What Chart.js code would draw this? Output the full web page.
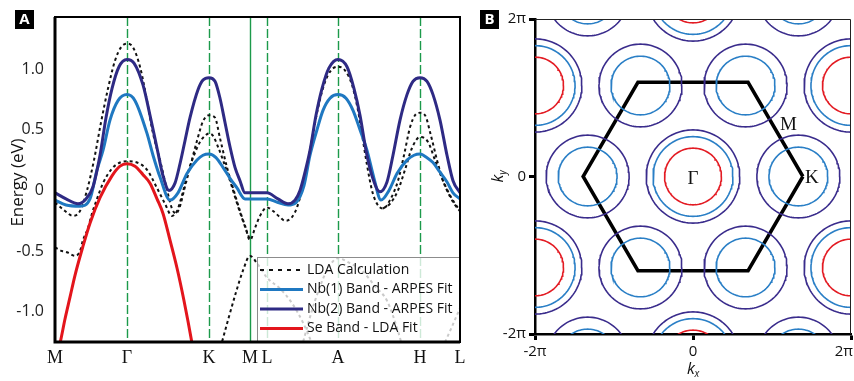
<!DOCTYPE html>
<html>
<head>
<meta charset="utf-8">
<script src="https://cdn.jsdelivr.net/npm/chart.js@4.4.1/dist/chart.umd.min.js"></script>
<style>
  html, body { margin: 0; padding: 0; background: #fff; overflow: hidden; }
  #wrap { position: relative; width: 854px; height: 381px; }
  #bands { position: absolute; left: 0; top: 0; }
  #fermi { position: absolute; left: 470px; top: 0; }
</style>
</head>
<body>
<div id="wrap">
  <canvas id="bands" width="470" height="381"></canvas>
  <canvas id="fermi" width="384" height="381"></canvas>
</div>
<script>
// ---- band structure along M-Γ-K-M-L-A-H-L (path length, energy in eV) ----
const pathTicks   = [0, 0.72, 1.54, 1.95, 2.12, 2.83, 3.65, 4.05];
const pathLabels  = ['M', 'Γ', 'K', 'M', 'L', 'A', 'H', 'L'];
const energyTicks = [-1.0, -0.5, 0, 0.5, 1.0];

const nb1Fit = [[0,-0.08],[0.11,-0.12],[0.25,-0.13],[0.35,-0.07],[0.42,0.17],[0.48,0.33],[0.55,0.58],[0.63,0.74],[0.72,0.79],[0.80,0.74],[0.92,0.47],[0.98,0.29],[1.05,0.11],[1.15,-0.08],[1.23,-0.02],[1.32,0.14],[1.42,0.25],[1.48,0.29],[1.54,0.30],[1.61,0.27],[1.68,0.19],[1.75,0.10],[1.82,0.02],[1.90,-0.07],[1.95,-0.07],[2.12,-0.07],[2.23,-0.10],[2.33,-0.12],[2.41,-0.10],[2.49,0.04],[2.55,0.29],[2.62,0.50],[2.68,0.66],[2.75,0.76],[2.83,0.79],[2.91,0.76],[2.98,0.66],[3.05,0.50],[3.12,0.33],[3.19,0.10],[3.26,-0.08],[3.34,0.00],[3.42,0.14],[3.52,0.25],[3.59,0.29],[3.65,0.30],[3.72,0.27],[3.78,0.23],[3.85,0.15],[3.92,0.07],[3.98,-0.02],[4.05,-0.07]];

const nb2Fit = [[0,-0.02],[0.11,-0.07],[0.23,-0.11],[0.31,-0.07],[0.38,0.03],[0.45,0.29],[0.51,0.60],[0.57,0.84],[0.64,1.02],[0.72,1.08],[0.79,1.05],[0.88,0.87],[0.95,0.62],[1.02,0.35],[1.08,0.12],[1.14,0.00],[1.20,0.06],[1.25,0.22],[1.30,0.41],[1.35,0.60],[1.43,0.83],[1.48,0.91],[1.54,0.93],[1.60,0.90],[1.65,0.76],[1.70,0.56],[1.75,0.36],[1.80,0.19],[1.85,0.08],[1.90,-0.02],[1.95,-0.02],[2.12,-0.02],[2.23,-0.07],[2.33,-0.11],[2.40,-0.08],[2.45,0.00],[2.50,0.15],[2.55,0.33],[2.61,0.62],[2.67,0.84],[2.74,1.01],[2.83,1.08],[2.92,1.02],[2.99,0.84],[3.05,0.62],[3.11,0.33],[3.17,0.12],[3.25,-0.01],[3.32,0.07],[3.38,0.29],[3.45,0.58],[3.52,0.79],[3.58,0.90],[3.65,0.93],[3.72,0.90],[3.78,0.79],[3.85,0.58],[3.92,0.29],[3.98,0.08],[4.05,-0.02]];

const seFit = [[0.01,-1.37],[0.05,-1.26],[0.10,-1.06],[0.15,-0.88],[0.20,-0.70],[0.28,-0.46],[0.35,-0.27],[0.45,-0.06],[0.57,0.12],[0.65,0.20],[0.72,0.22],[0.80,0.20],[0.88,0.13],[0.95,0.06],[1.02,-0.07],[1.08,-0.19],[1.15,-0.41],[1.22,-0.64],[1.29,-0.91],[1.37,-1.26],[1.39,-1.36]];

// LDA bands, one array per branch
const ldaUpper = [[0,-0.10],[0.10,-0.17],[0.18,-0.21],[0.25,-0.17],[0.32,0.00],[0.39,0.25],[0.46,0.56],[0.53,0.84],[0.60,1.07],[0.66,1.18],[0.72,1.21],[0.78,1.18],[0.85,1.02],[0.92,0.74],[0.98,0.47],[1.05,0.25],[1.11,0.04],[1.17,-0.15],[1.21,-0.19],[1.25,-0.13],[1.29,0.00],[1.35,0.19],[1.42,0.41],[1.48,0.57],[1.54,0.62],[1.60,0.60],[1.65,0.43],[1.72,0.19],[1.78,0.02],[1.85,-0.17],[1.90,-0.29],[1.95,-0.41],[2.00,-0.31],[2.05,-0.21],[2.12,-0.14],[2.18,-0.17],[2.25,-0.22],[2.30,-0.25],[2.36,-0.23],[2.42,-0.14],[2.48,0.04],[2.55,0.33],[2.62,0.64],[2.69,0.87],[2.76,0.99],[2.83,1.02],[2.90,0.99],[2.97,0.87],[3.03,0.66],[3.08,0.41],[3.12,0.21],[3.17,0.00],[3.22,-0.11],[3.28,-0.15],[3.35,-0.08],[3.43,0.08],[3.49,0.29],[3.55,0.52],[3.60,0.62],[3.65,0.64],[3.70,0.62],[3.76,0.45],[3.82,0.25],[3.88,0.08],[3.95,-0.05],[4.00,-0.12],[4.05,-0.17]];
const ldaLower = [[0,-0.47],[0.07,-0.50],[0.12,-0.51],[0.20,-0.54],[0.25,-0.50],[0.28,-0.41],[0.33,-0.31],[0.37,-0.19],[0.42,-0.07],[0.48,0.06],[0.57,0.18],[0.65,0.23],[0.72,0.24],[0.82,0.23],[0.92,0.17],[1.02,0.02],[1.10,-0.11],[1.17,-0.21],[1.22,-0.17],[1.27,-0.04],[1.33,0.15],[1.40,0.31],[1.45,0.40],[1.50,0.45],[1.54,0.47],[1.58,0.45],[1.63,0.36],[1.68,0.25],[1.75,0.08],[1.81,-0.08],[1.87,-0.23],[1.95,-0.41]];
const ldaAH    = [[3.28,-0.15],[3.35,-0.11],[3.43,0.00],[3.50,0.17],[3.57,0.35],[3.65,0.44],[3.73,0.40],[3.80,0.25],[3.87,0.10],[3.95,-0.04],[4.05,-0.17]];
const ldaDeepM = [[1.64,-1.34],[1.73,-1.07],[1.81,-0.84],[1.88,-0.66],[1.95,-0.54],[2.02,-0.60],[2.12,-0.72],[2.25,-0.81],[2.37,-0.93],[2.48,-1.09],[2.57,-1.26],[2.61,-1.34]];
const ldaDeepA = [[2.45,-1.34],[2.60,-0.91],[2.72,-0.66],[2.83,-0.56],[2.95,-0.60],[3.07,-0.66],[3.20,-0.79],[3.32,-0.91],[3.43,-1.16],[3.49,-1.34]];
const ldaDeepL = [[3.85,-1.34],[3.95,-1.16],[4.05,-0.97]];

// ---- Fermi surface (kx, ky in units of 1/a) ----
const piTicks  = [-2 * Math.PI, 0, 2 * Math.PI];
const piLabels = ['-2π', '0', '2π'];
const gammaPockets = [[0,0],[0,7.26],[0,-7.26],[6.28,3.63],[6.28,-3.63],[-6.28,3.63],[-6.28,-3.63]];
const kPockets = [[4.19,0],[-4.19,0],[2.09,3.63],[-2.09,3.63],[2.09,-3.63],[-2.09,-3.63],[4.19,7.26],[-4.19,7.26],[4.19,-7.26],[-4.19,-7.26]];
const gammaRadii = { se: 1.13, nb1: 1.59, nb2: 1.86 };
const kRadii = { nb1: 1.17, nb2: 1.65 };
const zoneCorners = [[4.37,0],[2.19,3.76],[-2.19,3.76],[-4.37,0],[-2.19,-3.76],[2.19,-3.76],[4.37,0]];

const NB1 = '#1f78c1', NB2 = '#2e2a84', SE = '#e3151c', GREEN = '#1c9a4a';
const SANS = '"Open Sans", "Liberation Sans", sans-serif';
const SERIF = '"Liberation Serif", "DejaVu Serif", serif';

const xy = arr => arr.map(p => ({ x: p[0], y: p[1] }));

function ldaSet(arr) {
  return { label: 'LDA Calculation', data: xy(arr), borderColor: '#111', borderWidth: 2,
           borderDash: [3, 3], order: 4 };
}

const bandSets = [
  ldaSet(ldaUpper), ldaSet(ldaLower), ldaSet(ldaAH),
  ldaSet(ldaDeepM), ldaSet(ldaDeepA), ldaSet(ldaDeepL),
  { label: 'Nb(1) Band - ARPES Fit', data: xy(nb1Fit), borderColor: NB1, borderWidth: 3, order: 3 },
  { label: 'Nb(2) Band - ARPES Fit', data: xy(nb2Fit), borderColor: NB2, borderWidth: 3, order: 2 },
  { label: 'Se Band - LDA Fit', data: xy(seFit), borderColor: SE, borderWidth: 3, order: 1 }
];

function panelTag(ctx, letter, x, y) {
  ctx.save();
  ctx.fillStyle = '#000';
  ctx.fillRect(x, y, 19, 19);
  ctx.fillStyle = '#fff';
  ctx.font = 'bold 15px ' + SANS;
  ctx.textAlign = 'center';
  ctx.textBaseline = 'middle';
  ctx.fillText(letter, x + 9.5, y + 10);
  ctx.restore();
}

const bandDecor = {
  id: 'bandDecor',
  beforeDatasetsDraw(chart) {
    const { ctx, chartArea: a, scales: { x } } = chart;
    ctx.save();
    ctx.strokeStyle = GREEN;
    ctx.lineWidth = 1.4;
    pathTicks.forEach((v, i) => {
      if (i === 0 || i === pathTicks.length - 1) return;
      const px = Math.round(x.getPixelForValue(v)) + 0.5;
      ctx.setLineDash(i === 3 ? [] : [9, 3]);
      ctx.beginPath();
      ctx.moveTo(px, a.top);
      ctx.lineTo(px, a.bottom);
      ctx.stroke();
    });
    ctx.restore();
  },
  afterDatasetsDraw(chart) {
    const { ctx, chartArea: a } = chart;
    const w = 203, h = 85;
    const left = a.right - w, top = a.bottom - h;
    ctx.save();
    ctx.fillStyle = 'rgba(255,255,255,0.78)';
    ctx.fillRect(left, top, w, h);
    ctx.strokeStyle = '#8c8c8c';
    ctx.lineWidth = 1;
    ctx.strokeRect(left + 0.5, top + 0.5, w, h);
    // one entry per label, in dataset order
    const seen = new Set();
    const entries = chart.data.datasets.filter(d => !seen.has(d.label) && seen.add(d.label));
    ctx.font = '14px ' + SANS;
    ctx.textBaseline = 'middle';
    ctx.fillStyle = '#111';
    entries.forEach((d, i) => {
      const y = top + 13 + i * 19.5;
      ctx.strokeStyle = d.borderColor;
      ctx.lineWidth = d.borderDash ? 2 : 3;
      ctx.setLineDash(d.borderDash ? [4, 5] : []);
      ctx.beginPath();
      ctx.moveTo(left + 3, y);
      ctx.lineTo(left + 46, y);
      ctx.stroke();
      ctx.fillText(d.label, left + 50, y);
    });
    ctx.restore();
  },
  afterDraw(chart) {
    const { ctx, chartArea: a } = chart;
    ctx.save();
    ctx.strokeStyle = '#000';
    ctx.lineWidth = 2;
    ctx.strokeRect(a.left, a.top, a.right - a.left, a.bottom - a.top);
    ctx.lineWidth = 3;
    ctx.beginPath();
    ctx.moveTo(a.left, a.top);
    ctx.lineTo(a.left, a.bottom);
    ctx.lineTo(a.right, a.bottom);
    ctx.stroke();
    // axis title
    ctx.translate(18, (a.top + a.bottom) / 2 + 3);
    ctx.rotate(-Math.PI / 2);
    ctx.fillStyle = '#111';
    ctx.font = '17px ' + SANS;
    ctx.textAlign = 'center';
    ctx.textBaseline = 'middle';
    ctx.fillText('Energy (eV)', 0, 0);
    ctx.restore();
    panelTag(ctx, 'A', 15, 10);
  }
};

new Chart(document.getElementById('bands'), {
  type: 'line',
  data: { datasets: bandSets },
  options: {
    responsive: false,
    animation: false,
    layout: { padding: { top: 17, right: 10, left: 0, bottom: 0 } },
    plugins: { legend: { display: false }, tooltip: { enabled: false } },
    elements: { point: { radius: 0 }, line: { cubicInterpolationMode: 'monotone' } },
    datasets: { line: { clip: 0, fill: false } },
    scales: {
      x: {
        type: 'linear', min: 0, max: 4.05,
        afterFit: s => { s.height = 39; },
        afterBuildTicks: s => { s.ticks = pathTicks.map(v => ({ value: v })); },
        ticks: { callback: (v, i) => pathLabels[i], autoSkip: false, maxRotation: 0,
                 font: { family: SERIF, size: 18 }, color: '#111', padding: -3 },
        grid: { display: false }, border: { display: false }
      },
      y: {
        min: -1.25, max: 1.43,
        afterFit: s => { s.width = 55; },
        afterBuildTicks: s => { s.ticks = energyTicks.map(v => ({ value: v })); },
        ticks: { callback: v => (v === 0 ? '0' : v.toFixed(1)),
                 font: { family: SANS, size: 16 }, color: '#222', padding: 3 },
        grid: { display: false }, border: { display: false }
      }
    }
  },
  plugins: [bandDecor]
});

// ---- Fermi surface contours ----
function ring(c, r) {
  const pts = [];
  for (let i = 0; i <= 120; i++) {
    const t = (i / 120) * 2 * Math.PI;
    pts.push({ x: c[0] + r * Math.cos(t), y: c[1] + r * Math.sin(t) });
  }
  return pts;
}

const fsSets = [];
gammaPockets.forEach(c => {
  fsSets.push({ data: ring(c, gammaRadii.nb2), borderColor: '#3a2c8c' });
  fsSets.push({ data: ring(c, gammaRadii.nb1), borderColor: '#2a7fc6' });
  fsSets.push({ data: ring(c, gammaRadii.se), borderColor: '#e31b23' });
});
kPockets.forEach(c => {
  fsSets.push({ data: ring(c, kRadii.nb2), borderColor: '#3a2c8c' });
  fsSets.push({ data: ring(c, kRadii.nb1), borderColor: '#2a7fc6' });
});
fsSets.forEach(d => { d.borderWidth = 1.6; });
fsSets.push({ data: xy(zoneCorners), borderColor: '#000', borderWidth: 3.5, borderJoinStyle: 'miter' });

const fsDecor = {
  id: 'fsDecor',
  afterDraw(chart) {
    const { ctx, chartArea: a, scales: { x, y } } = chart;
    ctx.save();
    ctx.strokeStyle = '#222';
    ctx.lineWidth = 1;
    ctx.beginPath();
    ctx.moveTo(a.left, a.top + 0.5);
    ctx.lineTo(a.right - 0.5, a.top + 0.5);
    ctx.lineTo(a.right - 0.5, a.bottom);
    ctx.stroke();

    ctx.fillStyle = '#111';
    ctx.font = '15px ' + SANS;
    ctx.textBaseline = 'middle';
    piTicks.forEach((v, i) => {
      const px = x.getPixelForValue(v);
      ctx.textAlign = i === piTicks.length - 1 ? 'right' : 'center';
      ctx.fillText(piLabels[i], i === piTicks.length - 1 ? chart.width - 1 : px, a.bottom + 18);
    });

    // axis titles k_x and k_y
    ctx.font = 'italic 16px ' + SANS;
    ctx.textAlign = 'center';
    const cx = x.getPixelForValue(0);
    ctx.fillText('k', cx - 2, a.bottom + 35);
    ctx.font = 'italic 10px ' + SANS;
    ctx.fillText('x', cx + 4, a.bottom + 40);
    ctx.translate(28, y.getPixelForValue(0));
    ctx.rotate(-Math.PI / 2);
    ctx.font = 'italic 16px ' + SANS;
    ctx.fillText('k', -2, 0);
    ctx.font = 'italic 10px ' + SANS;
    ctx.fillText('y', 4, 5);
    ctx.setTransform(1, 0, 0, 1, 0, 0);

    // high-symmetry points
    ctx.font = '19px ' + SERIF;
    ctx.textAlign = 'center';
    ctx.fillText('Γ', x.getPixelForValue(0), y.getPixelForValue(-0.1));
    ctx.fillText('M', x.getPixelForValue(3.8), y.getPixelForValue(2.07));
    ctx.fillText('K', x.getPixelForValue(4.73), y.getPixelForValue(-0.05));
    ctx.restore();
    panelTag(ctx, 'B', 10, 10);
  }
};

new Chart(document.getElementById('fermi'), {
  type: 'scatter',
  data: { datasets: fsSets },
  options: {
    responsive: false,
    animation: false,
    layout: { padding: { top: 19, right: 3, left: 0, bottom: 0 } },
    plugins: { legend: { display: false }, tooltip: { enabled: false } },
    elements: { point: { radius: 0 } },
    datasets: { scatter: { showLine: true, clip: 0, tension: 0 } },
    scales: {
      x: {
        min: -2 * Math.PI, max: 2 * Math.PI,
        afterFit: s => { s.height = 47; s.paddingLeft = 0; s.paddingRight = 0; },
        afterBuildTicks: s => { s.ticks = piTicks.map(v => ({ value: v })); },
        ticks: { display: false },
        grid: { drawOnChartArea: false, tickLength: 6, tickWidth: 3, tickColor: '#000' },
        border: { color: '#000', width: 2.5 }
      },
      y: {
        min: -2 * Math.PI, max: 2 * Math.PI,
        afterFit: s => { s.width = 65; },
        afterBuildTicks: s => { s.ticks = piTicks.map(v => ({ value: v })); },
        ticks: { callback: (v, i) => piLabels[i], font: { family: SANS, size: 15 }, color: '#111', padding: 3 },
        grid: { drawOnChartArea: false, tickLength: 6, tickWidth: 3, tickColor: '#000' },
        border: { color: '#000', width: 2.5 }
      }
    }
  },
  plugins: [fsDecor]
});
</script>
</body>
</html>
